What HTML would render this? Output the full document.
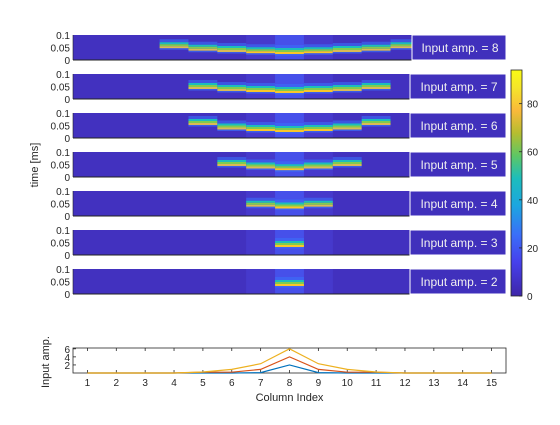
<!DOCTYPE html>
<html><head><meta charset="utf-8"><style>
body{margin:0;background:#fff;}
svg{font-family:"Liberation Sans",sans-serif;}
</style></head><body>
<svg id="fig" width="560" height="420" xmlns="http://www.w3.org/2000/svg">
<defs>
<linearGradient id="parula" x1="0" y1="1" x2="0" y2="0">
<stop offset="0" stop-color="#3e26a8"/><stop offset="0.15" stop-color="#4640ec"/>
<stop offset="0.27" stop-color="#3a6ef8"/><stop offset="0.4" stop-color="#1ca6e0"/>
<stop offset="0.52" stop-color="#1cbdbc"/><stop offset="0.62" stop-color="#5dc765"/>
<stop offset="0.72" stop-color="#b5bd30"/><stop offset="0.82" stop-color="#f9b93a"/>
<stop offset="0.92" stop-color="#f5e52a"/><stop offset="1" stop-color="#f9fb14"/>
</linearGradient>
</defs>
<g id="panels"></g>
<g id="cbar"></g>
<g id="bottom"></g>
</svg>
<script>
const NS="http://www.w3.org/2000/svg";
// heatmap data
const amps=[8,7,6,5,4,3,2];
const firstCol=[4,5,5,6,7,8,8];
const delays=[
 [0.055,0.045,0.04,0.035,0.032,0.035,0.04,0.045,0.055],
 [0.048,0.04,0.036,0.032,0.036,0.04,0.048],
 [0.06,0.042,0.036,0.032,0.036,0.042,0.06],
 [0.052,0.042,0.035,0.042,0.052],
 [0.045,0.038,0.045],
 [0.04],
 [0.04]
];
// bottom chart data
const columns=[1,2,3,4,5,6,7,8,9,10,11,12,13,14,15];
const serYellow=[0,0,0,0,0.25,0.9,2.3,6,2.3,0.9,0.25,0,0,0,0];
const serRed=[0,0,0,0,0.2,0.2,0.9,4,0.9,0.2,0.2,0,0,0,0];
const serBlue=[0,0,0,0,0,0,0.1,2,0.1,0,0,0,0,0,0];
const yTicksB=[2,4,6];
const cbTicks=[0,20,40,60,80];

function el(t,a,p){const e=document.createElementNS(NS,t);for(const k in a)e.setAttribute(k,a[k]);p.appendChild(e);return e;}
const X0=73,X1=506;
const xs=c=>X0+(c-0.5)*(X1-X0)/15;
const colW=(X1-X0)/15;

const P=document.getElementById('panels');
amps.forEach((a,i)=>{
  const top=35+39*i,h=25,bot=top+h;
  const ty=v=>bot-v/0.1*h;
  const g=el('g',{},P);
  
  
  el('rect',{x:X0,y:top,width:X1-X0,height:h,fill:'#4231bf'},g);
  // lighter center columns
  el('rect',{x:xs(7)-colW/2,y:top,width:colW*3,height:h,fill:'#4a3fd6',opacity:0.6},g);
  el('rect',{x:xs(8)-colW/2,y:top,width:colW,height:h,fill:'#4650ea'},g);
  delays[i].forEach((d,j)=>{
    const c=firstCol[i]+j,x=xs(c)-colW/2,y=ty(d);
    const s=el('g',{},g);
    
    
    el('rect',{x:x,y:y-7,width:colW,height:3,fill:'#3a6ef8',opacity:0.6},s);
    el('rect',{x:x,y:y-4,width:colW,height:2,fill:'#1cbdbc'},s);
    el('rect',{x:x,y:y-2,width:colW,height:2,fill:'#7fcc50'},s);
    el('rect',{x:x,y:y,width:colW,height:2,fill:(c===8||Math.abs(c-8)<=1&&a>=6)?'#f9c62a':'#d9ba56'},s);
    el('rect',{x:x,y:y+2,width:colW,height:1.5,fill:'#3a6ef8',opacity:0.7},s);
  });
  el('line',{x1:X0,y1:bot,x2:X1,y2:bot,stroke:'#222','stroke-width':1},g);
  el('line',{x1:X0,y1:top,x2:X0,y2:bot,stroke:'#222','stroke-width':0.6},g);
  [[0,'0'],[0.05,'0.05'],[0.1,'0.1']].forEach(([v,t])=>{
    const tx=el('text',{x:X0-3,y:ty(v)+4,'font-size':10,fill:'#262626','text-anchor':'end'},g);tx.textContent=t;
  });
  const lx=i===0?412:410;
  const lb=el('rect',{x:lx,y:top,width:X1-lx,height:h,fill:'#4030bc',stroke:'#fff','stroke-width':1},g);
  
  
  const lt=el('text',{x:(lx+X1)/2+1,y:top+17,'font-size':12,fill:'#f0f0f0','text-anchor':'middle'},g);
  lt.textContent='Input amp. = '+a;
});
const yl=el('text',{x:38,y:165,'font-size':11,fill:'#262626','text-anchor':'middle',transform:'rotate(-90 38 165)'},P);
yl.textContent='time [ms]';



// colorbar
const C=document.getElementById('cbar');
const cb0=296,cbMax=94,cbTop=70;
const cy=v=>cb0-(v/cbMax)*(cb0-cbTop);
const cbr=el('rect',{x:511,y:cbTop,width:11,height:cb0-cbTop,fill:'url(#parula)',stroke:'#262626','stroke-width':0.8},C);


cbTicks.forEach(v=>{
  el('line',{x1:519,y1:cy(v),x2:522,y2:cy(v),stroke:'#262626','stroke-width':0.8},C);
  const t=el('text',{x:527,y:cy(v)+4,'font-size':10,fill:'#262626'},C);t.textContent=v;
});

// bottom chart
const B=document.getElementById('bottom');
const bTop=348,bBot=373,bMax=6.2;
const by=v=>bBot-v/bMax*(bBot-bTop);
const ax=el('rect',{x:X0,y:bTop,width:X1-X0,height:bBot-bTop,fill:'#fff',stroke:'#262626','stroke-width':0.8},B);


columns.forEach(c=>{
  el('line',{x1:xs(c),y1:bBot,x2:xs(c),y2:bBot-3,stroke:'#262626','stroke-width':0.8},B);
  el('line',{x1:xs(c),y1:bTop,x2:xs(c),y2:bTop+3,stroke:'#262626','stroke-width':0.8},B);
  const t=el('text',{x:xs(c),y:bBot+13,'font-size':10,fill:'#262626','text-anchor':'middle'},B);t.textContent=c;
});
yTicksB.forEach(v=>{
  el('line',{x1:X0,y1:by(v),x2:X0+3,y2:by(v),stroke:'#262626','stroke-width':0.8},B);
  const t=el('text',{x:X0-3,y:by(v)+4,'font-size':10,fill:'#262626','text-anchor':'end'},B);t.textContent=v;
});
[[serBlue,'#0072bd','series-blue'],[serRed,'#d95319','series-red'],[serYellow,'#edb120','series-yellow']].forEach(([s,col,n])=>{
  const pts=[];
  s.forEach((v,k)=>{pts.push(xs(columns[k])+','+by(v));});
  const pl=el('polyline',{points:pts.join(' '),fill:'none',stroke:col,'stroke-width':1.2},B);
  
  
});
const xt=el('text',{x:(X0+X1)/2,y:401,'font-size':11,fill:'#262626','text-anchor':'middle'},B);
xt.textContent='Column Index';


const yt=el('text',{x:49,y:362,'font-size':11,fill:'#262626','text-anchor':'middle',transform:'rotate(-90 49 362)'},B);
yt.textContent='Input amp.';


</script>
</body></html>
